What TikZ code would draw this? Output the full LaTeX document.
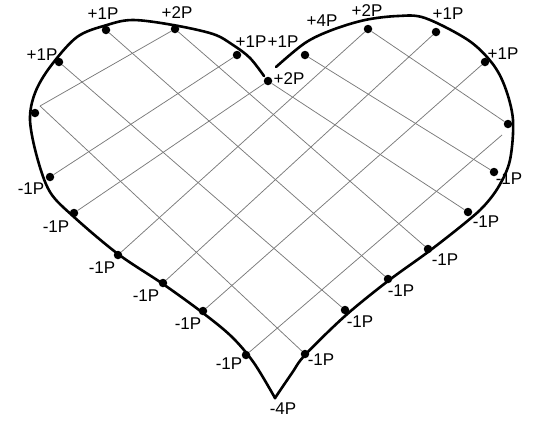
\documentclass[tikz,border=0pt]{standalone}
\usepackage{fontspec}
\setmainfont{Liberation Sans}
\usetikzlibrary{positioning, backgrounds}
\definecolor{gridGray}{HTML}{7A7A7A}
\tikzset{
  heartLine/.style={line width=2.6pt, black, line cap=round, line join=round},
  gridLine/.style={gridGray, line width=0.75pt},
  dotP/.style={circle, fill=black, inner sep=0pt, minimum size=8.5pt},
  tipDot/.style={circle, fill=black, inner sep=0pt, minimum size=3pt},
  chargeLbl/.style={font=\fontsize{17}{19}\selectfont, inner sep=0pt},
}
\begin{document}
\begin{tikzpicture}[x=1pt, y=-1pt]
  \useasboundingbox (0,0) rectangle (535,421);
  % dots, upper left lobe
  \node[dotP] (l0) at (35,113) {};
  \node[dotP] (l1) at (59,62) {};
  \node[dotP] (l2) at (106,30) {};
  \node[dotP] (l3) at (175,29) {};
  \node[dotP] (l4) at (237,55) {};
  \node[dotP] (l5) at (268,81) {};
  % dots, upper right lobe
  \node[dotP] (r1) at (305,55) {};
  \node[dotP] (r2) at (368,29) {};
  \node[dotP] (r3) at (436,32) {};
  \node[dotP] (r4) at (485,62) {};
  \node[dotP] (r5) at (508,124) {};
  \node[dotP] (r6) at (494,172) {};
  % dots, lower left side
  \node[dotP] (lm1) at (50,177) {};
  \node[dotP] (lm2) at (74,213) {};
  \node[dotP] (lm3) at (118,255) {};
  \node[dotP] (lm4) at (163,283) {};
  \node[dotP] (lm5) at (203,311) {};
  \node[dotP] (lm6) at (246,355) {};
  % dots, lower right side
  \node[dotP] (rm1) at (468,212) {};
  \node[dotP] (rm2) at (428,249) {};
  \node[dotP] (rm3) at (388,279) {};
  \node[dotP] (rm4) at (345,310) {};
  \node[dotP] (rm5) at (305,354) {};
  \node[tipDot] (tip) at (275,398) {};
  \coordinate (c1) at (40,106);
  \coordinate (c2) at (502,135);

  \begin{scope}[on background layer]
    % rising lines
    \draw[gridLine] (c1)--(l3); \draw[gridLine] (lm1)--(l4); \draw[gridLine] (lm2)--(l5);
    \draw[gridLine] (lm3)--(r2); \draw[gridLine] (lm4)--(r3); \draw[gridLine] (lm5)--(r4);
    \draw[gridLine] (lm6)--(c2);
    % falling lines
    \draw[gridLine] (c1)--(rm5); \draw[gridLine] (l1)--(rm4); \draw[gridLine] (l2)--(rm3);
    \draw[gridLine] (l3)--(rm2); \draw[gridLine] (l5)--(rm1); \draw[gridLine] (r1)--(r6);
    \draw[gridLine] (r2)--(r5);
    % outline
    \draw[heartLine] plot[smooth, tension=0.55] coordinates {(264,76) (250,58) (233,45) (213,34)
      (173,25) (133,20) (107,25) (77,37) (50,67) (35,93) (30,120) (37,157) (50,192) (74,217)
      (118,254) (163,284) (203,313) (232,337) (254,363) (tip)};
    \draw[heartLine] plot[smooth, tension=0.55] coordinates {(tip) (292,373) (305,355) (345,316)
      (388,281) (428,252) (465,223) (484,206) (499,186) (510,160) (513,120) (505,87) (492,63)
      (468,40) (425,18) (398,16) (365,20) (332,30) (305,43) (276,67)};
  \end{scope}

  % charges
  \node[chargeLbl] (q1) at (42,55) {+1P};
  \node[chargeLbl] (q2) at (103,14) {+1P};
  \node[chargeLbl] (q3) at (177,13) {+2P};
  \node[chargeLbl] (q4) at (251,42) {+1P};
  \node[chargeLbl] (q5) at (283,42) {+1P};
  \node[chargeLbl] (q6) at (289,79) {+2P};
  \node[chargeLbl] (q7) at (322,21) {+4P};
  \node[chargeLbl] (q8) at (367,11) {+2P};
  \node[chargeLbl] (q9) at (448,14) {+1P};
  \node[chargeLbl] (q10) at (503,54) {+1P};
  \node[chargeLbl] (q11) at (509,179) {-1P};
  \node[chargeLbl] (q12) at (486,222) {-1P};
  \node[chargeLbl] (q13) at (445,260) {-1P};
  \node[chargeLbl] (q14) at (401,291) {-1P};
  \node[chargeLbl] (q15) at (360,322) {-1P};
  \node[chargeLbl] (q16) at (321,360) {-1P};
  \node[chargeLbl] (q17) at (283,409) {-4P};
  \node[chargeLbl] (q18) at (31,189) {-1P};
  \node[chargeLbl] (q19) at (56,227) {-1P};
  \node[chargeLbl] (q20) at (102,268) {-1P};
  \node[chargeLbl] (q21) at (146,296) {-1P};
  \node[chargeLbl] (q22) at (188,324) {-1P};
  \node[chargeLbl] (q23) at (229,364) {-1P};
\end{tikzpicture}
\end{document}
